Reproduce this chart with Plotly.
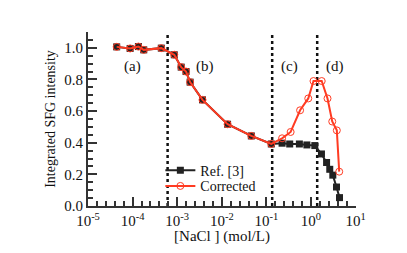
import numpy as np
import plotly.graph_objects as go

# Data
ref_x = [4.4e-5, 8.8e-5, 1.35e-4, 1.78e-4, 4.4e-4, 8.6e-4, 1.23e-3, 1.58e-3, 1.95e-3,
         3.7e-3, 0.0135, 0.046, 0.129, 0.225, 0.334, 0.55, 0.81, 1.22,
         1.72, 2.24, 2.64, 3.09, 3.74, 4.37]
ref_y = [1.006, 0.996, 1.008, 0.987, 0.998, 0.956, 0.878, 0.85, 0.783,
         0.671, 0.517, 0.443, 0.392, 0.397, 0.392, 0.392, 0.386, 0.382,
         0.329, 0.275, 0.232, 0.195, 0.12, 0.053]

cor_x = [4.4e-5, 8.8e-5, 1.35e-4, 1.78e-4, 4.4e-4, 8.6e-4, 1.23e-3, 1.58e-3, 1.95e-3,
         3.7e-3, 0.0135, 0.046, 0.129, 0.225, 0.35, 0.57, 0.87, 1.14,
         1.74, 2.35, 3.0, 3.8, 4.3]
cor_y = [1.006, 0.996, 1.008, 0.987, 0.998, 0.956, 0.878, 0.85, 0.783,
         0.671, 0.517, 0.443, 0.392, 0.428, 0.468, 0.605, 0.68, 0.79,
         0.79, 0.68, 0.534, 0.478, 0.217]

boundaries = [6.1e-4, 0.135, 1.38]
region_labels = ["(a)", "(b)", "(c)", "(d)"]
region_label_x = [1.0e-4, 4.3e-3, 0.33, 3.4]
region_label_y = [0.88, 0.88, 0.88, 0.88]

x_tickvals = [1e-5, 1e-4, 1e-3, 1e-2, 1e-1, 1e0, 1e1]
x_ticktext = ["10<sup>-5</sup>", "10<sup>-4</sup>", "10<sup>-3</sup>", "10<sup>-2</sup>",
              "10<sup>-1</sup>", "10<sup>0</sup>", "10<sup>1</sup>"]
y_tickvals = [0.0, 0.2, 0.4, 0.6, 0.8, 1.0]
y_ticktext = ["0.0", "0.2", "0.4", "0.6", "0.8", "1.0"]

FONT = "Liberation Serif"
RED = "#ff3b22"
AX = "#333333"

fig = go.Figure()

for b in boundaries:
    fig.add_trace(go.Scatter(x=[b, b], y=[0, 1.1], mode="lines",
                             line=dict(color="#111111", width=2.5, dash="3px,3px"),
                             showlegend=False, hoverinfo="skip"))

fig.add_trace(go.Scatter(x=ref_x, y=ref_y, mode="lines+markers", name="Ref. [3]",
                         line=dict(color="#222222", width=2), legend="legend",
                         marker=dict(symbol="square", size=7, color="#222222")))
fig.add_trace(go.Scatter(x=cor_x, y=cor_y, mode="lines+markers", name="Corrected",
                         line=dict(color=RED, width=2), legend="legend2",
                         marker=dict(symbol="circle-open", size=7, color=RED,
                                     line=dict(width=1))))

for t, xx, yy in zip(region_labels, region_label_x, region_label_y):
    fig.add_annotation(x=np.log10(xx), y=yy, text=t, showarrow=False,
                       font=dict(family=FONT, size=15, color="#111111"))

minor_x = [10 ** (e + f) for e in range(-5, 1) for f in (0.2, 0.4, 0.6, 0.8)]

leg_common = dict(xanchor="left", yanchor="top", bgcolor="rgba(0,0,0,0)",
                  font=dict(family=FONT, size=14), itemwidth=30)

fig.update_layout(
    width=391, height=237,
    margin=dict(l=80, r=43, t=24, b=39),
    paper_bgcolor="white", plot_bgcolor="white",
    font=dict(family=FONT, size=14, color="#111111"),
    showlegend=True,
    legend=dict(x=0.27, y=0.295, **leg_common),
    legend2=dict(x=0.27, y=0.205, **leg_common),
    xaxis=dict(type="log", range=[-5, 1.01], showgrid=False, zeroline=False,
               automargin=False,
               showline=True, linecolor=AX, linewidth=2,
               ticks="inside", ticklen=9, tickwidth=2, tickcolor=AX,
               tickvals=x_tickvals, ticktext=x_ticktext,
               tickfont=dict(family=FONT, size=15),
               minor=dict(tickvals=minor_x, ticks="inside", ticklen=5, tickwidth=2,
                          tickcolor=AX, showgrid=False),
               title=dict(text="[NaCl ] (mol/L)", font=dict(family=FONT, size=15),
                          standoff=5)),
    yaxis=dict(range=[0, 1.1], showgrid=False, zeroline=False,
               automargin=False,
               showline=True, linecolor=AX, linewidth=2,
               ticks="inside", ticklen=9, tickwidth=2, tickcolor=AX,
               tickvals=y_tickvals, ticktext=y_ticktext,
               tickfont=dict(family=FONT, size=15),
               minor=dict(dtick=0.05, ticks="inside", ticklen=5, tickwidth=2,
                          tickcolor=AX, showgrid=False),
               title=dict(text="Integrated SFG intensity", font=dict(family=FONT, size=14),
                          standoff=5)),
)

fig.write_html("out.html")
